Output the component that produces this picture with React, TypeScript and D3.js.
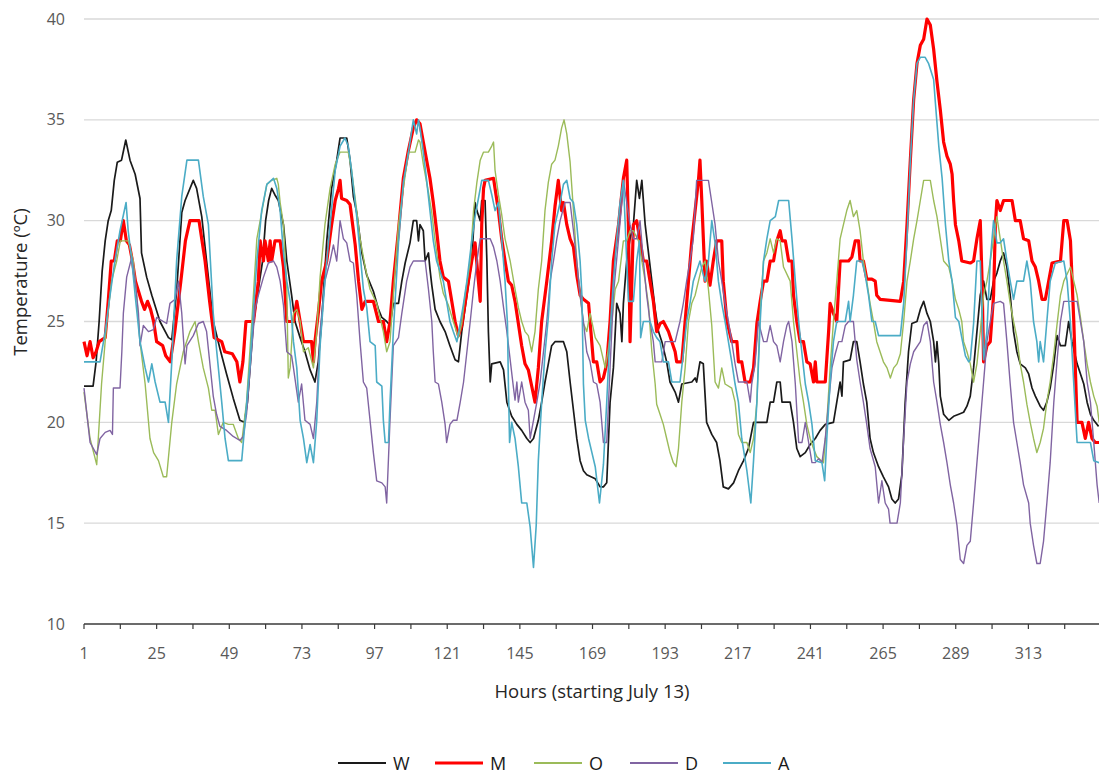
import * as d3 from 'd3';

type Pt = [number, number];

// [hour, temperature]
const wTemps: Pt[] = [
  [1,21.8],[4,21.8],[5,23],[6,25],[7,27.5],[8,29],[9,30],[10,30.5],[11,32],[12,32.9],[13.4,33],[14.8,34],[16.2,33],[17.9,32.3],[19.5,31.1],[20,28.4],[21.7,27.2],[23.4,26.3],[26.1,25],[28.9,24.2],[30,24.1],[31.6,26.5],[33.3,30.4],[34.4,31],[37.1,32],[38.2,31.6],[39.9,30.2],[41.5,28],[43.7,25],[46,23.6],[48.1,22.4],[50.3,21.2],[52.5,20.1],[54,20],
  [55,21],[56,23],[57,25],[58,26],[60,28],[61,30],[62,31],[63,31.6],[64,31.3],[65.2,31],[66.9,29.8],[68,28],[69.6,26.3],[70.7,25],[72.4,24.2],[74,23.5],[75.7,22.6],[77.3,22],[78.4,23],[79.5,25],[81.2,29],[82.8,31.6],[84.5,33],[85.6,34.1],[87.8,34.1],[88.9,33],[90,31.2],[91.1,30.4],[92.8,28.4],[94.4,27.3],[96.6,26.5],[98.3,25.6],[99.4,25.2],[101,25],[102.1,24.8],[103.2,25.9],[104.9,25.9],[106,27],[107.1,27.9],[108.7,28.9],[109.8,30],[110.9,30],[111.5,29],[112,29.8],
  [113.1,29.5],[113.7,28],[114.8,28.4],[115.3,27.6],[115.9,26.8],[117,25.6],[118.6,25],[120.3,24.5],[121.9,23.8],[123.6,23.1],[124.7,23],[125.8,24.5],[127.5,26.3],[129.1,28],[130.2,30.9],[130.8,30.5],[131.9,30],[132.4,31],[133.5,31],[134.1,28],[134.6,24.5],[135.2,22],[135.7,22.9],[138.5,23],[139.6,22.6],[140.7,21],[142.3,20.3],[144,19.9],[145.6,19.6],[147.3,19.2],[148.4,19],[149.5,19.2],[151.1,20.1],[152.2,21],[153.3,22],[154.4,22.9],[155.5,23.8],[156.6,24],[159.4,24],[160.5,23.5],[161.6,22],[162.7,20.6],[163.8,19.2],[164.9,18.1],[166,17.6],[167.1,17.4],
  [169.9,17.2],[171.5,16.8],[172.6,16.8],[173.7,17],[174.8,21],[175.9,22.7],[177,25.9],[178.1,25.4],[178.7,24],[179.2,25.9],[180.3,28],[181.4,29.1],[182.5,29.8],[183.6,32],[184.5,31.1],[185.3,32],[186.4,29.8],[187.5,28.4],[188.6,27],[189.7,25.6],[190.8,24.5],[191.9,24],[193.5,23],[194.6,22],[196.3,21.5],[197.4,21],[198.5,21.9],[201.8,22],[202.9,22.2],[203.4,22],[204.5,23],[205.6,22.9],[206.7,20],[208.4,19.4],[210,19],[211.1,18.1],[211.7,17.4],[212.2,16.8],[213.9,16.7],[215.6,17],[217.2,17.6],[218.9,18.1],[220.5,18.7],[222.2,20],
  [226.6,20],[227.7,21],[228.8,21],[229.9,22],[231,22],[231.6,21],[234.3,21],[235.4,20],[236.5,18.7],[237.6,18.3],[239.3,18.5],[240.9,18.9],[242.6,19.2],[244.2,19.6],[245.9,19.9],[248.6,20],[249.7,21],[250.8,22],[251.4,21.3],[251.9,23],[254.1,23.1],[255.2,24],[256.3,24],[257.4,23],[258.5,21.9],[259.6,21],[260.7,19.2],[261.8,18.5],[263.5,17.8],[265.1,17.3],[266.8,16.8],[267.9,16.2],[269,16],[270.1,16.2],[271.2,17.4],[272.3,21],[273.4,23.5],[274.5,24.9],[276.2,25],[277.3,25.6],[278.4,26],[279.5,25.4],
  [280.6,25],[281.7,24],[282.3,23],[282.8,24],[283.4,22.9],[283.9,21.3],[285,20.4],[286.7,20.1],[288.3,20.3],[290,20.4],[291.6,20.5],[292.7,20.8],[293.8,21.3],[294.9,22.7],[296,24.5],[297.1,26.3],[298.2,27],[299.3,26.1],[300.4,26.1],[301.5,27],[302.6,27.4],[303.7,28],[304.8,28.4],[305.9,27.7],[307,26.3],[308.1,24.5],[309.2,23.5],[310.3,22.9],[312,22.7],[313.1,22.4],[314.2,21.7],[315.3,21.3],[316.9,20.8],[318,20.6],[319.1,21],[320.2,21.7],[321.4,22.9],[322.5,24.3],[323.6,23.8],[325.2,23.8],[326.3,25],[327.4,24],[329.1,22.9],[331.3,21.9],[332.4,21],[333.5,20.4],[334.6,20.1],[336.2,19.8],
];

const mTemps: Pt[] = [
  [1,24],[2,23.3],[3,24],[4,23.2],[5,23.5],[6,24],[8,24.2],[9,26],[10,28],[11,28],[12,29],[13,29],[14,30],[15,29],[16,28.8],[17,28],[18,27],[20,26],[21,25.6],[22,26],[23,25.6],[24,25],[25,24],[27,23.8],[28,23.3],[29.5,23],[31,24.5],[33,27],[34.5,29],[36,30],[39,30],[41,28],[42.5,26],[44,24.2],[46.5,24],[47.5,23.5],[50,23.4],[51.5,23],[52.5,22],[53.5,23],[54.5,25],
  [57,25],[58.6,27],[59.2,29],[60.3,28],[60.8,29],[61.9,28],[62.5,29],[63,28],[64.1,29],[65.8,29],[66.9,27.7],[68,25],[70.2,25],[71.3,26],[72.4,25],[73.5,24],[76.2,24],[76.8,23],[77.3,24],[78.4,25.4],[79.5,27],[81.2,28],[82.8,29.8],[84,31],[85.1,31.6],[85.6,32],[86.1,31.1],[87.8,31],[88.9,30.8],[90.6,28.8],[91.7,27],[92.8,25.6],[93.9,26],[96.6,26],[98.3,25],[99.9,25],[101,24],[102.1,25],[103.2,27],[104.9,29.5],[106.5,32.1],[108.2,33.5],[109.8,34.6],[110.9,35],
  [112,34.8],[113.1,33.9],[114.2,33],[115.3,32.1],[116.4,30.9],[117.5,29.5],[118.6,28],[119.7,27.2],[121.4,27],[122.5,26],[123.6,25],[124.7,24.3],[125.8,24.8],[126.9,25.9],[128,27],[129.1,28],[130.2,28.9],[131.3,27],[131.9,26],[132.4,29.8],[133,31.6],[133.5,32],[136.3,32.1],[136.8,31.6],[137.9,30.5],[139,29.1],[140.1,28],[141.2,27],[142.3,26.8],[143.4,26],[144.5,24.9],[145.6,23.8],[146.7,22.9],[147.8,22.6],[148.9,21.8],[150,21],[151.1,22.7],[152.2,25],[153.9,27],[155.5,29],[156.6,30.7],[157.7,32],[158.8,30.5],[159.4,30.9],[160.5,29.8],[161.6,29.1],[162.7,28.7],[163.8,27.3],[164.9,26.3],[166,26.1],[167.7,25.9],
  [169.3,23],[170.4,23],[171.5,22],[172.6,22.2],[173.7,22.9],[174.8,25],[175.9,28],[177.6,29.8],[179.2,32.1],[180.3,33],[180.9,29.5],[181.4,24],[182,27],[182.5,29.8],[183.6,30],[184.7,29],[185.8,28],[186.9,28],[188,27],[189.1,26],[190.2,24.5],[191.3,24.9],[192.4,25],[194.1,24.5],[195.2,24],[196.3,23.5],[196.8,23],[198.5,23],[199.6,25],[200.7,27],[201.8,29],[202.9,30.5],[204,32],[204.5,33],[205.1,31],[206.2,27],[206.7,28],[207.8,26.8],[208.9,28],[210,29],[211.7,29],[212.2,27],[213.4,25],[215,24],[216.7,24],[217.2,23],[218.3,23],[219.4,22],[221.1,22],[222.2,22.7],[223.3,24.9],
  [224.4,26],[225.5,27],[226.6,27],[227.7,28],[228.8,28],[229.9,29],[231,29.5],[231.6,29],[232.7,29],[233.8,28],[234.9,28],[235.4,26.3],[236.5,25],[237.6,24],[238.7,24],[239.8,23],[240.9,22.9],[242,22],[242.6,23],[243.1,22],[245.9,22],[247,24.5],[247.5,25.9],[248.6,25.4],[249.7,25],[250.8,28],[253.6,28],[254.7,28.2],[255.8,29],[256.9,29],[257.4,28],[258.5,28],[259.6,27.1],[261.3,27.1],[262.4,27],[262.9,26.3],[264,26.1],[270.7,26],[271.8,27],[272.9,29.8],[274,33],[275.1,36],[276.2,37.8],[277.3,38.7],[278.4,39],[279.5,40],
  [280.6,39.7],[281.7,38.5],[282.8,36.9],[283.9,35.5],[285,33.9],[286.1,33.2],[287.2,32.8],[287.8,32.3],[288.3,31],[288.9,29.8],[290,29],[291,28],[293.8,27.9],[294.9,28],[296,29.1],[297.1,30],[297.7,27],[298.2,23],[299.3,23.8],[300.4,24],[301.5,26.3],[302.1,29.8],[302.6,31],[303.7,30.5],[304.8,31],[307.6,31],[308.7,30],[310.3,30],[311.4,29.1],[313.1,29],[314.2,28],[315.3,27.7],[316.4,27],[317.5,26.1],[318.6,26.1],[319.7,27],[320.8,27.9],[323.6,28],[324.7,30],[325.8,30],[326.9,29],[328,25],[329.1,20],[330.7,20],[331.8,19.2],[332.9,20],[334,19.2],[335.1,19],[336.4,19],
];

const oTemps: Pt[] = [
  [1,21.5],[3,19.2],[5.2,17.9],[6.8,21.9],[8.5,24.9],[10.1,27],[11.8,28],[13,29],[15.6,29],[17.3,28],[18.4,26.3],[19.5,24],[21.2,21.9],[22.8,19.2],[24,18.5],[25.6,18.1],[27.2,17.3],[28.3,17.3],[30,20],[31.6,21.9],[33.8,23.5],[36,24.5],[37.7,25],[38.8,24],[40.4,22.7],[42.1,21.7],[43.2,20.6],[44.3,20.6],[45.4,19.4],[47,20],[48.7,19.9],[50.3,19.9],[52,19.2],[53.1,19],[54.7,21],[56.4,24.9],
  [58.1,29.1],[60.3,30.9],[61.4,31.8],[63,32],[64.7,32.1],[65.2,31.8],[65.8,30.9],[66.9,29.8],[68,26.6],[68.5,22.2],[69.1,22.7],[70.2,25.4],[71.3,25.6],[72.4,25],[73.5,23.5],[75.1,23.7],[76.8,22.7],[77.9,24.5],[79,27.2],[80.6,29.8],[82.3,31.6],[84,32.8],[85.6,33.4],[88.3,33.4],[89.4,32.5],[91.1,30.5],[92.2,29.1],[93.9,27.7],[95.5,26.6],[97.7,25.9],[98.8,25.2],[99.9,24.5],[101,23.5],[102.1,24],[103.2,26.3],[104.9,29.8],[106.5,31.6],[108.2,33.4],[110.4,33.4],[111.5,34],
  [112,33.9],[113.1,32.8],[114.8,31.4],[115.9,30.4],[117,29],[118.6,27.2],[119.7,26.4],[121.4,25.8],[123,25],[124.7,24.2],[125.8,24.9],[126.9,26.3],[128.6,28],[129.7,30.5],[130.8,31.9],[131.9,33],[133,33.4],[134.6,33.4],[135.7,33.7],[136.3,33.9],[136.8,32.5],[137.9,31.3],[139,30.3],[140.1,29.1],[141.8,28],[143.4,26.6],[144.5,25.7],[145.6,25],[146.7,24.5],[147.8,24.3],[148.9,23.5],[150,24.5],[151.1,26.6],[152.2,28],[153.3,30.5],[154.4,31.9],[155.5,32.8],[156.6,33],[157.7,33.7],[158.8,34.6],[159.6,35],[160.5,34.3],[161.6,32.9],[162.7,30.5],[163.8,28],[164.9,26.3],[166,24.9],[167.1,24.5],
  [168.2,25.4],[169.9,24.2],[171.5,23.8],[173.2,22.7],[174.3,23.7],[175.4,25],[176.5,26.6],[177.6,27],[179.2,29],[180.3,29],[181.4,29.5],[182.5,29.5],[184.2,29],[185.3,28],[186.4,27],[187.5,25.8],[188.6,23.5],[189.7,21.9],[190.2,20.9],[191.3,20.4],[192.4,19.9],[193.5,19.2],[194.6,18.5],[195.7,18],[196.6,17.8],[197.4,18.7],[198.5,21],[199.6,22.7],[200.7,25],[201.8,25.9],[202.9,26.3],[204,27],[205.1,27.7],[206.2,28],[207.3,26.6],[208.4,24.8],[209.5,22],[210.6,21.7],[211.7,22.7],[212.8,21.9],[215,21.7],[216.1,21],[217.2,19.4],[218.3,19],[220,19],[221.1,18.5],[222.2,19.2],[223.3,21],
  [224.4,25.5],[225.5,28],[226.6,28.4],[227.7,29.1],[228.8,28.4],[229.9,29.1],[231,29],[232.1,27.7],[234.3,27],[235.4,25],[236.5,23.5],[237.6,22],[238.7,21],[239.8,19.9],[240.9,19.2],[242,18.7],[243.1,18.3],[245.3,18],[246.4,20],[247.5,22.7],[248.6,25],[249.7,27],[250.8,29.1],[251.9,29.8],[253,30.5],[254.1,31],[255.2,30.2],[256.3,30.5],[257.4,29.5],[258.5,28],[259.6,27],[260.7,25.9],[261.8,25],[262.9,24],[264,23.5],[265.1,23],[266.3,22.7],[267.4,22.2],[268.5,22.7],[269.6,22.9],[270.7,23.4],[271.8,25],[272.9,27],[274,28],[275.1,29.1],[276.2,30],[277.3,31],[278.4,32],[279.5,32],
  [280.6,32],[281.7,31],[282.8,30.2],[283.9,29.1],[285,28],[286.7,27.7],[287.8,27],[288.9,26.1],[290,25.6],[291,25],[291.6,24],[292.7,23.5],[293.8,22.9],[294.9,22],[296,22.9],[297.1,24.5],[298.2,26.3],[299.3,27],[300.4,28],[301.5,29.1],[302.6,30.2],[303.7,29.1],[304.8,28],[305.9,27],[307,25.9],[308.1,25],[309.2,24.2],[310.3,22.9],[311.4,22],[312.5,20.9],[313.6,20],[314.7,19.2],[315.8,18.5],[316.9,19],[318,19.7],[319.1,21],[320.2,22],[321.4,23.4],[322.5,24.9],[323.6,26.3],[324.7,27],[326.9,27.7],[328,27],[329.1,26.3],[330.2,25.2],[331.3,24],[332.4,22.9],[333.5,22],[334.6,21.3],[335.7,20.8],[336.4,20],
];

const dTemps: Pt[] = [
  [1,21.7],[3,19],[5.2,18.4],[6.3,19.2],[8,19.5],[9.6,19.6],[10.4,19.4],[10.7,21.7],[12.9,21.7],[13.5,23.5],[14,25.4],[15.1,27.2],[16.8,28.2],[17.9,27],[19,25.4],[19.5,23.8],[20.6,24.8],[22.3,24.5],[23.9,24.6],[25,25.2],[27.2,25],[28.3,24.9],[29.4,25.9],[31.1,26.1],[32.2,27],[33.3,25.4],[34.4,22.9],[35,23.8],[37.1,24.3],[38.8,24.9],[40.4,25],[41.5,24.5],[42.6,22.9],[43.7,21.3],[44.8,20.4],[45.9,19.8],[48.1,19.6],[50.3,19.3],[52.5,19.1],[53.6,19.3],[54.7,20.4],[56.4,23.6],
  [57.5,25.6],[58.6,26.3],[60.3,27.2],[61.9,27.9],[63.6,28],[64.7,27.7],[65.8,27],[66.9,25.8],[68,23.5],[69.6,23.3],[70.2,22.7],[71.8,21],[72.9,21.9],[74,20.1],[75.7,19.9],[76.8,19.2],[77.9,21],[79,24.5],[80.6,27],[82.3,28],[83.4,28.8],[84.5,28],[85.6,30],[86.7,29.1],[87.8,28.9],[88.9,28],[90,27.9],[91.1,26.3],[92.2,24],[93.3,22],[94.4,21.7],[95.5,20.1],[96.6,18.5],[97.7,17.1],[99.4,17],[100.5,16.8],[101,16],[102.1,20.1],[103.2,23.8],[104.9,24.2],[106,25.4],[107.6,27],[108.7,27.7],[109.8,28],[112,28],
  [113.7,28],[114.8,26.6],[115.9,25],[116.4,23.5],[117,22],[118.1,21.9],[119.2,21],[120.3,19.9],[120.8,19],[121.9,19.9],[123,20.1],[124.2,20.1],[125.3,21],[126.4,22],[127.5,23.5],[128.6,25],[129.7,26.6],[130.8,28],[131.9,29.1],[135.2,29.1],[136.3,28.7],[137.4,28],[138.5,27],[139.6,25.7],[140.7,24.5],[141.8,23.1],[142.9,21.7],[143.4,21.1],[144,22],[144.5,21],[145.6,22],[146.7,21],[147.8,20.6],[148.4,19.2],[149.5,20.1],[150.6,21],[151.7,22],[152.8,23.5],[153.9,25],[155,27],[156.1,28],[157.2,29.1],[158.3,30],[159.9,30.9],[161.6,30.9],[162.7,29.5],[163.8,28],[164.9,26.3],[166,25],[167.1,23.5],
  [168.2,23],[169.3,22],[170.4,21.9],[171.5,21],[172.6,19],[173.7,19],[174.8,22.7],[175.9,26.3],[177.6,29.1],[178.7,30.9],[179.2,32],[180.3,30.9],[181.4,29.8],[182.5,29.1],[183.6,29.1],[184.7,30],[185.8,28],[186.9,26.3],[188,25],[189.1,24],[189.7,23],[191.9,23],[193,24],[196.3,24],[197.9,25],[199,25.9],[200.1,27],[201.2,28],[202.3,29.1],[203.4,32],[207.3,32],[208.4,30.9],[209.5,29.8],[210.6,28],[211.7,27],[212.8,25.9],[213.9,25],[215,24],[216.1,22.9],[217.2,22],[220,22],[221.1,21],[221.6,21.9],[222.7,22.9],[223.8,25],
  [225.5,24],[226.6,24],[227.7,24.8],[228.8,24],[229.9,23.8],[231,23],[232.1,24],[233.2,24.8],[233.8,25],[234.9,24],[236,21.9],[237.1,19],[238.2,19],[239.3,20],[240.4,19],[241.5,18],[242.6,18],[243.7,18.2],[244.8,18],[245.9,19.2],[247,21],[248.1,22.7],[249.2,23.4],[250.3,24],[251.4,24],[252.5,24.8],[253.6,25],[255.2,25],[256.3,23.1],[257.4,22],[258.5,21],[259.6,19.9],[260.7,18.7],[262.4,17.8],[263.5,16],[264.6,17.1],[265.7,16],[266.8,15.7],[267.3,15],[269.6,15],[270.7,16],[271.8,19.2],[272.9,22],[274,22.9],[275.1,23.5],[277.3,24],[278.4,24.8],[279.5,25],
  [280.6,24],[281.7,22],[282.8,21],[283.9,19.9],[285,19],[286.1,18],[287.2,16.9],[288.3,16],[289.4,14.9],[290.5,13.2],[291.6,13],[292.7,13.9],[293.8,14.1],[294.9,16],[296,18],[297.1,20],[298.2,22],[299.3,24],[300.4,25],[301.5,25.9],[303.7,26],[304.8,25.9],[305.9,24],[307,21.9],[308.1,20],[309.2,19],[310.3,18],[311.4,16.9],[313.1,16],[313.6,15],[314.7,13.9],[315.8,13],[316.9,13],[318,14.1],[319.1,16],[320.2,18],[321.4,21],[322.5,23.1],[323.6,25],[324.7,26],[329.1,26],[330.2,25],[331.3,24],[332.4,22],[333.5,21],[334.6,19],[335.7,16.9],[336.4,16],
];

const aTemps: Pt[] = [
  [1,23],[6.3,23],[8,24.5],[9.6,26.3],[11.2,28],[12.9,29.5],[14.9,30.9],[15.6,29.5],[16.8,28],[17.9,26.3],[19.5,24],[21.2,22.7],[22.3,22],[23.4,22.9],[24.5,22],[26.1,21],[27.8,21],[28.9,20],[30,23],[31.6,28],[33.3,31.2],[35,33],[38.8,33],[40.4,31.2],[42.1,29.8],[43.7,25.4],[44.8,23.6],[46.5,21],[47.6,19.2],[48.7,18.1],[53.1,18.1],[54.2,20],
  [55.9,23],[57,25.6],[58.1,28],[59.7,30.5],[61.4,31.8],[63.6,32.1],[64.7,31.6],[65.8,30.5],[66.9,28.4],[68,27],[69.1,26],[70.2,24],[71.3,22.7],[72.4,20.1],[73.5,19.2],[74.6,18],[75.7,18.9],[76.8,18],[77.9,20.1],[79,23.8],[80.6,27],[82.3,29.8],[84,32.5],[85.6,33.7],[87.2,34.1],[88.3,33.7],[89.4,32.5],[91.1,30.2],[92.2,28.4],[93.3,26.6],[94.4,25.7],[95.5,24],[97.2,23.8],[97.7,22],[99.4,21.8],[99.9,20.1],[100.5,19],[101.6,19],[102.1,21],[103.2,24.5],[104.9,28.9],[106.5,31.9],[108.2,33.4],[109.8,35],[110.9,34.3],[111.5,35],
  [112,34.6],[113.1,33.4],[114.2,32],[115.3,30.5],[116.4,29],[117.5,28],[119.7,27],[120.8,26],[121.9,25],[123,24.5],[124.2,24],[125.3,24.9],[126.4,25.9],[127.5,27],[129.1,29],[130.2,30.2],[131.3,31.1],[132.4,32],[134.6,32],[135.7,31.3],[136.8,30.5],[137.9,30.9],[139,29.1],[140.1,27],[140.9,24.9],[141.2,22],[141.6,19],[142.3,20],[143.4,19.2],[144.5,17.8],[145.6,16],[147.3,16],[148.4,14.8],[149.5,12.8],[150.4,14.9],[151.1,18.1],[152.2,21],[153.3,23.4],[154.4,25.2],[155.5,28],[156.6,29.8],[158.3,30.9],[159.4,31.8],[160.5,32],[161.6,31.1],[162.7,30.9],[163.8,29.8],[164.9,28],[165.5,26.3],[166,21.9],[166.6,20.1],[167.7,19.2],
  [168.8,18.5],[169.9,17.8],[171.3,16],[172.6,17.9],[173.7,21],[174.8,24.5],[175.9,27],[177,29.1],[178.1,30.9],[179.2,32],[180.3,28],[180.9,26],[182.5,26],[183.6,28],[184.5,29],[184.9,24.2],[185.8,25],[188,25],[189.1,24.5],[190.2,24.2],[191.3,24],[192.4,23],[194.1,23],[195.2,22],[197.9,22],[199,23.4],[200.1,25],[201.2,25.9],[202.3,27],[204.5,28],[205.6,27.3],[206.2,27],[207.3,28],[208.4,30],[209.5,28.9],[210.6,27],[211.7,25.9],[212.8,25],[213.9,24],[215,23],[216.1,21.9],[217.2,21],[218.3,19.2],[220,17.6],[221.3,16],[222.2,18.1],[223.3,21],
  [224.4,25],[225.5,28],[226.6,29.1],[227.7,30],[229.4,30.2],[230.5,31],[233.8,31],[234.9,29.1],[236,27],[237.1,25],[238.2,23.4],[239.3,21.9],[240.4,21],[241.5,19.9],[242.6,18.1],[244.8,18],[245.7,17.1],[246.4,19.2],[247.5,22],[248.6,24],[249.7,25],[252.5,25],[253.6,26],[254.1,25],[255.2,26.3],[256.3,28],[258,28],[259.1,27.3],[260.2,26.3],[261.3,25],[262.4,25],[263.5,24.3],[270.7,24.3],[271.8,25.9],[272.9,29.1],[274,33],[275.1,36],[276.2,37.8],[277.3,38.1],[278.9,38.1],[280,37.8],
  [281.7,37],[282.3,35.8],[283.4,33.7],[284.5,32.1],[285.6,29.8],[286.7,28],[287.8,27],[288.9,25.2],[290,25],[291,24.2],[292.2,23.3],[293.3,23],[293.8,23.1],[294.9,24.9],[296,28],[297.1,28],[298.2,23.1],[299.3,24.5],[300.4,28],[301.5,30],[302.6,28.9],[303.7,28.9],[304.8,29.1],[305.9,28],[307,27],[308.1,26.1],[309.2,27],[311.4,27],[312.5,28],[313.6,27],[314.7,25],[315.8,24],[316.4,23],[316.9,24],[318,23],[319.1,25],[320.2,27],[321.9,27.9],[324.7,28],[325.8,27],[326.9,24.9],[328,21.9],[329.1,19],[333.5,19],[334.6,18.1],[336.4,18],
];

const seriesNames = ['W', 'M', 'O', 'D', 'A'];
const seriesColors = ['#1a1a1a', '#ff0000', '#9bbb59', '#8064a2', '#4bacc6'];
const seriesWidths = [1.7, 3.2, 1.4, 1.4, 1.6];
const seriesData = [wTemps, mTemps, oTemps, dTemps, aTemps];

const xTickLabels = [1, 25, 49, 73, 97, 121, 145, 169, 193, 217, 241, 265, 289, 313];
const yTicks = [10, 15, 20, 25, 30, 35, 40];

const legendLineX = [338, 435, 534, 630, 723];

export default function App() {
  const width = 1099;
  const height = 775;

  const x = d3.scaleLinear().domain([1, 336]).range([84, 1098]);
  const y = d3.scaleLinear().domain([10, 40]).range([624, 19]);

  const line = d3
    .line<Pt>()
    .x((d) => x(d[0]))
    .y((d) => y(d[1]));

  const minorTicks = d3.range(1, 337, 12);
  const axisFont = "'Open Sans', 'Noto Sans', sans-serif";

  return (
    <svg
      width={width}
      height={height}
      style={{ position: 'absolute', left: 0, top: 0, background: '#fff' }}
    >
      {/* gridlines */}
      {yTicks.slice(1).map((t) => (
        <line key={t} x1={84} x2={1099} y1={y(t)} y2={y(t)} stroke="#d9d9d9" strokeWidth={1.4} />
      ))}

      {/* y labels */}
      {yTicks.map((t) => (
        <text
          key={t}
          x={65}
          y={y(t)}
          dy="0.35em"
          textAnchor="end"
          fontFamily={axisFont}
          fontSize={16}
          fill="#595959"
        >
          {t}
        </text>
      ))}

      {/* x axis */}
      <line x1={84} x2={1099} y1={y(10)} y2={y(10)} stroke="#3a3a3a" strokeWidth={1.5} />
      {minorTicks.map((t) => (
        <line key={t} x1={x(t)} x2={x(t)} y1={y(10)} y2={y(10) + 5} stroke="#3a3a3a" strokeWidth={1.2} />
      ))}
      {xTickLabels.map((t) => (
        <text
          key={t}
          x={x(t)}
          y={659}
          textAnchor="middle"
          fontFamily={axisFont}
          fontSize={16}
          fill="#595959"
        >
          {t}
        </text>
      ))}

      <text x={592} y={698} textAnchor="middle" fontFamily={axisFont} fontSize={18.5} fill="#262626">
        Hours (starting July 13)
      </text>
      <text
        transform="translate(27,282) rotate(-90)"
        textAnchor="middle"
        fontFamily={axisFont}
        fontSize={18.5}
        fill="#262626"
      >
        Temperature (ºC)
      </text>

      {/* series */}
      {seriesData.map((data, i) => (
        <path
          key={seriesNames[i]}
          d={line(data) ?? ''}
          fill="none"
          stroke={seriesColors[i]}
          strokeWidth={seriesWidths[i]}
          strokeLinejoin="round"
        />
      ))}

      {/* legend */}
      {seriesNames.map((name, i) => (
        <g key={name}>
          <line
            x1={legendLineX[i]}
            x2={legendLineX[i] + 48}
            y1={763}
            y2={763}
            stroke={seriesColors[i]}
            strokeWidth={i === 1 ? 3.2 : 1.8}
          />
          <text
            x={legendLineX[i] + 55}
            y={770}
            fontFamily={axisFont}
            fontSize={18}
            fill="#1a1a1a"
          >
            {name}
          </text>
        </g>
      ))}
    </svg>
  );
}
